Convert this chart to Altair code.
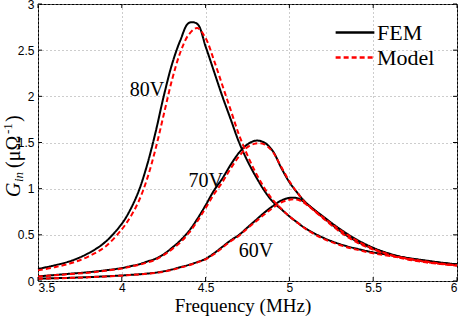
import altair as alt
import pandas as pd

# Frequency samples (MHz)
freq = [3.5, 3.6, 3.7, 3.8, 3.9, 4.0, 4.05, 4.1, 4.15, 4.2, 4.25, 4.3, 4.35, 4.4,
        4.45, 4.5, 4.55, 4.6, 4.65, 4.7, 4.75, 4.8, 4.85, 4.9, 4.95, 5.0, 5.05,
        5.1, 5.2, 5.3, 5.4, 5.5, 5.6, 5.7, 5.8, 5.9, 6.0]

# Input conductance G_in (1/uOhm), FEM results
fem_80 = [0.13, 0.17, 0.22, 0.30, 0.42, 0.62, 0.77, 0.97, 1.25, 1.60, 2.00, 2.35, 2.61, 2.795,
          2.785, 2.54, 2.27, 2.00, 1.75, 1.50, 1.30, 1.13, 0.98, 0.86, 0.78, 0.70, 0.63,
          0.565, 0.47, 0.40, 0.35, 0.31, 0.28, 0.25, 0.225, 0.20, 0.18]
fem_70 = [0.05, 0.065, 0.08, 0.095, 0.115, 0.14, 0.16, 0.18, 0.21, 0.24, 0.29, 0.36, 0.44, 0.54,
          0.67, 0.82, 0.98, 1.11, 1.26, 1.39, 1.48, 1.52, 1.50, 1.41, 1.23, 1.07, 0.95,
          0.845, 0.70, 0.565, 0.45, 0.36, 0.295, 0.25, 0.22, 0.195, 0.175]
fem_60 = [0.025, 0.03, 0.035, 0.042, 0.05, 0.06, 0.066, 0.072, 0.08, 0.09, 0.105, 0.125, 0.15, 0.175,
          0.205, 0.24, 0.30, 0.37, 0.44, 0.50, 0.58, 0.66, 0.74, 0.81, 0.87, 0.90, 0.895,
          0.84, 0.69, 0.545, 0.43, 0.35, 0.29, 0.245, 0.215, 0.195, 0.18]

# Input conductance from the analytical model
mod_80 = [0.115, 0.15, 0.195, 0.265, 0.37, 0.56, 0.69, 0.86, 1.10, 1.42, 1.80, 2.18, 2.48, 2.67,
          2.74, 2.63, 2.39, 2.12, 1.85, 1.58, 1.36, 1.17, 1.01, 0.88, 0.785, 0.70, 0.63,
          0.56, 0.46, 0.39, 0.34, 0.30, 0.27, 0.245, 0.215, 0.19, 0.17]
mod_70 = [0.048, 0.062, 0.076, 0.09, 0.11, 0.135, 0.155, 0.175, 0.2, 0.23, 0.28, 0.345, 0.42, 0.52,
          0.645, 0.79, 0.94, 1.07, 1.22, 1.35, 1.45, 1.49, 1.48, 1.40, 1.24, 1.08, 0.95,
          0.84, 0.69, 0.555, 0.44, 0.35, 0.285, 0.24, 0.21, 0.185, 0.165]
mod_60 = [0.024, 0.029, 0.034, 0.04, 0.048, 0.058, 0.064, 0.07, 0.078, 0.088, 0.1, 0.12, 0.145, 0.17,
          0.2, 0.235, 0.29, 0.36, 0.43, 0.49, 0.57, 0.645, 0.72, 0.79, 0.85, 0.88, 0.88,
          0.83, 0.68, 0.535, 0.42, 0.34, 0.28, 0.235, 0.205, 0.185, 0.17]

series_names = ["FEM", "Model"]
voltages = ["80V", "70V", "60V"]

# Curve labels
label_text = ["80V", "70V", "60V"]
label_x = [4.15, 4.5, 4.8]
label_y = [2.07, 1.08, 0.33]

x_ticks = [3.5, 4.0, 4.5, 5.0, 5.5, 6.0]
y_ticks = [0.0, 0.5, 1.0, 1.5, 2.0, 2.5, 3.0]

rows = []
for name, curves in zip(series_names, [[fem_80, fem_70, fem_60], [mod_80, mod_70, mod_60]]):
    for v, ys in zip(voltages, curves):
        for f, g in zip(freq, ys):
            rows.append({"freq": f, "G": g, "voltage": v, "series": name})
df = pd.DataFrame(rows)

W, H = 419, 277
SERIF = "Liberation Serif"
SANS = "Liberation Sans"

xscale = alt.Scale(domain=[3.5, 6], nice=False, zero=False)
yscale = alt.Scale(domain=[0, 3], nice=False)

legend = alt.Legend(
    title=None, orient="none", legendX=296, legendY=16,
    symbolType="stroke", symbolSize=1500, symbolStrokeWidth=2.5,
    labelFont=SERIF, labelFontSize=22, labelColor="black", labelOffset=1,
    clipHeight=25, rowPadding=0, padding=0, labelLimit=200,
)

lines = alt.Chart(df).mark_line(interpolate="catmull-rom", strokeWidth=2).encode(
    x=alt.X("freq:Q", scale=xscale, title="",
            axis=alt.Axis(values=x_ticks, format=".1~f")),
    y=alt.Y("G:Q", scale=yscale, title="",
            axis=alt.Axis(values=y_ticks, format=".1~f")),
    color=alt.Color("series:N", scale=alt.Scale(domain=series_names, range=["black", "red"]),
                    legend=legend),
    strokeDash=alt.StrokeDash("series:N",
                              scale=alt.Scale(domain=series_names, range=[[1, 0], [5, 3]]),
                              legend=legend),
    detail="voltage:N",
)

labels = alt.Chart(pd.DataFrame({"t": label_text, "x": label_x, "y": label_y})).mark_text(
    font=SERIF, fontSize=20, color="black"
).encode(x=alt.X("x:Q", scale=xscale, title=""),
         y=alt.Y("y:Q", scale=yscale, title=""), text="t:N")

# Inward tick marks on all four sides
yt = pd.DataFrame({"v": y_ticks})
xt = pd.DataFrame({"v": x_ticks})
tick_style = dict(color="black", strokeWidth=1)
ticks_left = alt.Chart(yt).mark_rule(**tick_style).encode(
    y=alt.Y("v:Q", scale=yscale, title=""), x=alt.value(0), x2=alt.value(4))
ticks_right = alt.Chart(yt).mark_rule(**tick_style).encode(
    y=alt.Y("v:Q", scale=yscale, title=""), x=alt.value(W - 4), x2=alt.value(W))
ticks_bottom = alt.Chart(xt).mark_rule(**tick_style).encode(
    x=alt.X("v:Q", scale=xscale, title=""), y=alt.value(H - 4), y2=alt.value(H))
ticks_top = alt.Chart(xt).mark_rule(**tick_style).encode(
    x=alt.X("v:Q", scale=xscale, title=""), y=alt.value(0), y2=alt.value(4))

# Axis titles drawn as text so the serif face and the sub/superscripts are kept
one = alt.Data(values=[{}])


def piece(text, x, y, size, italic=False):
    return alt.Chart(one).mark_text(
        font=SERIF, fontSize=size, fontStyle="italic" if italic else "normal",
        angle=270, align="left", baseline="alphabetic", color="black",
    ).encode(text=alt.value(text), x=alt.value(x), y=alt.value(y))


xtitle = alt.Chart(one).mark_text(
    font=SERIF, fontSize=19, color="black", align="center", baseline="alphabetic"
).encode(text=alt.value("Frequency (MHz)"), x=alt.value(205), y=alt.value(308))

ytitle = [
    piece("G", -18, 193, 20, True),
    piece("in", -15, 178, 13, True),
    piece("(\u03bc\u03a9", -18, 164, 20),
    piece("-1", -26, 130, 13),
    piece(")", -18, 118, 20),
]

chart = alt.layer(
    lines, labels, ticks_left, ticks_right, ticks_bottom, ticks_top, xtitle, *ytitle
).properties(
    width=W, height=H,
    autosize=alt.AutoSizeParams(type="none"),
    padding={"left": 38, "top": 4, "right": 7, "bottom": 36},
).configure_view(
    stroke="black", strokeWidth=1,
).configure_axis(
    domain=False, ticks=False,
    grid=True, gridColor="#9a9a9a", gridDash=[1, 3], gridWidth=1,
    labelFont=SANS, labelFontSize=12, labelColor="black",
).configure_axisX(
    labelPadding=1,
).configure_axisY(
    labelPadding=4,
)

chart.save("out.html", embed_options={"renderer": "svg", "actions": False})
